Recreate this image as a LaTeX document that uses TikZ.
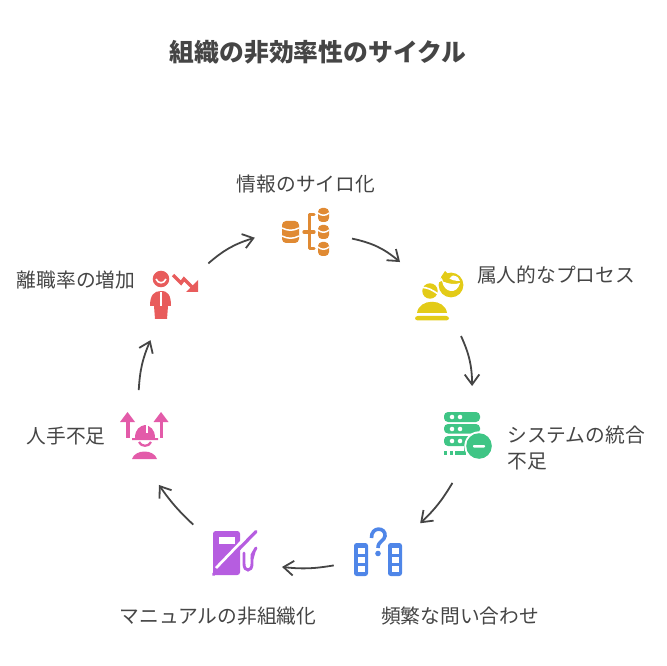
\documentclass[tikz,border=0pt]{standalone}
\usepackage{fontspec}
\setmainfont{Noto Sans CJK JP}
\usetikzlibrary{arrows.meta}
\definecolor{inkgray}{HTML}{454545}
\definecolor{dborange}{HTML}{E08A33}
\definecolor{ppyellow}{HTML}{E3CB17}
\definecolor{srvgreen}{HTML}{3FC585}
\definecolor{bldblue}{HTML}{4F86E8}
\definecolor{fuelpurple}{HTML}{B65DE0}
\definecolor{crewpink}{HTML}{E35BA9}
\definecolor{quitred}{HTML}{E85C5C}
\newcommand{\dbcan}[5]{\fill[#1, rounded corners=3pt] (#2,#3) rectangle (#4,#5);}
\begin{document}
\begin{tikzpicture}[x=0.75pt, y=-0.75pt,
		label/.style = {text=inkgray, font=\fontsize{14.8pt}{19pt}\selectfont, inner sep=0pt},
		title/.style = {text=inkgray, font=\fontsize{18.6pt}{24pt}\selectfont\bfseries, inner sep=0pt},
		hub/.style = {circle, minimum size=75pt, inner sep=0pt, outer sep=0pt},
		flow/.style = {draw=inkgray, line width=1.35pt, -{Straight Barb[length=7.5pt, width=11pt, line width=1.35pt]}},
		cut/.style = {draw=white, line width=1.1pt}]
	\useasboundingbox (0,0) rectangle (667,666);
	\node[title] (head) at (318,52) {組織の非効率性のサイクル};
	\node[label] (info) at (306,184) {情報のサイロ化};
	\node[label] (proc) at (556,275) {属人的なプロセス};
	\node[label, align=left, anchor=north west] (sys) at (507,426) {システムの統合\\不足};
	\node[label] (ask) at (460,616) {頻繁な問い合わせ};
	\node[label] (manual) at (218,616) {マニュアルの非組織化};
	\node[label] (staff) at (66,436) {人手不足};
	\node[label] (quit) at (76,280) {離職率の増加};

	\node[hub] (infohub) at (303.5,226.5) {};
	\node[hub] (prochub) at (441.5,290) {};
	\node[hub] (syshub) at (455,433) {};
	\node[hub] (askhub) at (383,556.7) {};
	\node[hub] (manualhub) at (233.7,554) {};
	\node[hub] (staffhub) at (137,440) {};
	\node[hub] (quithub) at (168.4,293.5) {};
	\draw[flow] (infohub.-14.5) to[bend left=14] (prochub.146);
	\draw[flow] (prochub.-67) to[bend left=12] (syshub.70);
	\draw[flow] (syshub.-93.4) to[bend left=8] (askhub.42.3);
	\draw[flow] (askhub.190.7) to[bend left=8] (manualhub.-15);
	\draw[flow] (manualhub.144.5) to[bend left=6] (staffhub.-64);
	\draw[flow] (staffhub.88.9) to[bend left=10] (quithub.-111.6);
	\draw[flow] (quithub.37.6) to[bend left=12] (infohub.193.3);

	\dbcan{dborange}{282}{221}{299}{243}
	\draw[cut] (282,228) .. controls (288,231) and (293,231) .. (299,228);
	\draw[cut] (282,236) .. controls (288,239) and (293,239) .. (299,236);
	\dbcan{dborange}{318}{208}{329}{222}
	\draw[cut] (318,213) .. controls (321,216) and (326,216) .. (329,213);
	\dbcan{dborange}{318}{225}{329}{239}
	\draw[cut] (318,230) .. controls (321,233) and (326,233) .. (329,230);
	\dbcan{dborange}{318}{242}{329}{256}
	\draw[cut] (318,247) .. controls (321,250) and (326,250) .. (329,247);
	\draw[dborange, line width=2.5pt, line cap=round, line join=round] (314,214.5) -- (309.5,214.5) -- (309.5,248.5) -- (314,248.5);
	\draw[dborange, line width=2.5pt, line cap=round] (304,232) -- (314,232);

	\fill[ppyellow, rounded corners=2pt] (415,316) rectangle (449,320.5);
	\fill[ppyellow] (417,313) .. controls (419,298) and (445,298) .. (447,313) -- cycle;
	\fill[ppyellow] (430,291) circle[radius=5.8pt];
	\draw[white, line width=1.2pt] (421,287.5) .. controls (427,287) and (433,290) .. (439,295);
	\fill[ppyellow] (451,285) circle[radius=9.3pt];
	\fill[white] (442,281) .. controls (444,293) and (457,295) .. (460,283) .. controls (455,285) and (448,284) .. (442,281) -- cycle;
	\fill[white] (453,275.5) .. controls (457,276) and (459.5,278) .. (460,281) .. controls (455,281) and (451,280) .. (449,278) -- cycle;
	\draw[white, line width=2pt] (438,281) -- (447,277.5);
	\fill[ppyellow] (445,271) -- (451,277) -- (444,282) -- (441,277) -- cycle;

	\fill[srvgreen, rounded corners=3pt] (444,412) rectangle (480,422);
	\fill[srvgreen, rounded corners=3pt] (444,424) rectangle (480,433.5);
	\fill[srvgreen, rounded corners=3pt] (444,436) rectangle (480,446);
	\fill[white] (452,417) circle[radius=1.7pt] (460,417) circle[radius=1.7pt];
	\fill[white] (452,429) circle[radius=1.7pt] (460,429) circle[radius=1.7pt];
	\fill[white] (452,441) circle[radius=1.7pt] (460,441) circle[radius=1.7pt];
	\fill[srvgreen] (444,451) rectangle (447,454.5);
	\fill[srvgreen] (450,451) rectangle (453,454.5);
	\fill[srvgreen] (455,451) rectangle (466,454.5);
	\fill[srvgreen] (464,445) rectangle (466,454.5);
	\fill[white] (479,446) circle[radius=11pt];
	\fill[srvgreen] (479,446) circle[radius=9.6pt];
	\fill[white, rounded corners=0.7pt] (473,445) rectangle (485,447.5);

	\fill[bldblue, rounded corners=2pt] (354,543) rectangle (368,576);
	\fill[bldblue, rounded corners=2pt] (388,543) rectangle (402,576);
	\fill[white] (358,547.5) rectangle (365,553.5);
	\fill[white] (358,556.5) rectangle (365,562.5);
	\fill[white] (358,566) rectangle (365,572);
	\fill[white] (392,547.5) rectangle (399,553.5);
	\fill[white] (392,556.5) rectangle (399,562.5);
	\fill[white] (392,566) rectangle (399,572);
	\draw[bldblue, line width=2.7pt] (371.5,538) .. controls (371,526) and (386,527) .. (385,536) .. controls (384.5,541) and (378,541) .. (378,548);
	\fill[bldblue] (378,553.5) circle[radius=2.1pt];

	\fill[fuelpurple, rounded corners=2pt] (213,531) -- (240,531) -- (240,575) -- (213,575) -- cycle;
	\fill[white] (218.5,537) rectangle (235,544);
	\draw[white, line width=2pt] (216,568) -- (242,541);
	\draw[white, line width=3pt] (242,551) -- (262,530);
	\draw[fuelpurple, line width=2.4pt, line cap=round] (239,549) -- (256,531.5);
	\draw[fuelpurple, line width=2.4pt, line cap=round] (213.5,574.5) -- (217,571);
	\draw[fuelpurple, line width=2.2pt, line cap=round] (244,553) -- (244,564) .. controls (244,572) and (252,572) .. (252,564) -- (252,555) -- (256,548);
	\draw[fuelpurple, line width=2.2pt] (252,559) -- (254,552);

	\fill[crewpink] (127.5,412) -- (135,422) -- (120,422) -- cycle;
	\fill[crewpink] (161,412) -- (168.5,422) -- (153.5,422) -- cycle;
	\fill[crewpink] (126,421) rectangle (129.5,438);
	\fill[crewpink] (159.5,421) rectangle (163,438);
	\fill[crewpink] (135,438) .. controls (135,429) and (140,426) .. (145,425) .. controls (150,426) and (155,429) .. (155,438) -- (158,438) -- (158,440) -- (132,440) -- (132,438) -- cycle;
	\draw[cut] (147,425) -- (147,433);
	\draw[crewpink, line width=1.7pt] (139,442) .. controls (141,447) and (149,447) .. (151,442);
	\fill[crewpink] (132,459) .. controls (135,449) and (154,449) .. (157,459) -- cycle;

	\fill[quitred] (161,279) circle[radius=6.2pt];
	\draw[white, line width=1.2pt] (156,279) .. controls (158,284) and (164,284) .. (166,279);
	\fill[quitred] (150,306) .. controls (150,295) and (154,291) .. (161,291) .. controls (168,291) and (171,295) .. (171,306) -- (168,306) -- (167,319) -- (155,319) -- (154,306) -- cycle;
	\draw[white, line width=1.3pt] (161,292) -- (161,306);
	\draw[quitred, line width=2.6pt] (173,275) -- (181,283) -- (184,279) -- (193,288);
	\fill[quitred] (198,280) -- (198,292) -- (186,292) -- cycle;
\end{tikzpicture}
\end{document}
